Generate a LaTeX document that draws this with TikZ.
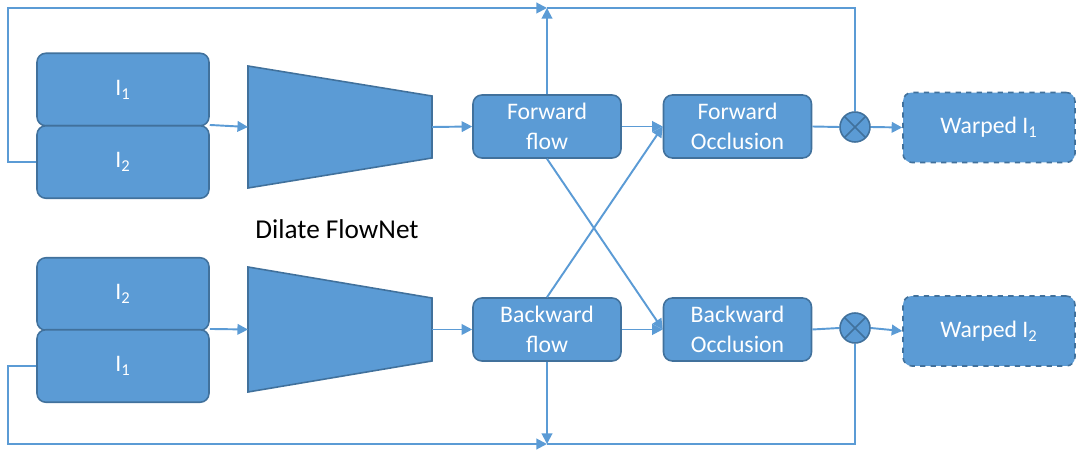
\documentclass[tikz,border=0pt]{standalone}
\usepackage{fontspec}
\setmainfont{Carlito}
\usetikzlibrary{arrows.meta}
\definecolor{boxblue}{HTML}{5B9BD5}
\definecolor{edgeblue}{HTML}{41719C}

\begin{document}
\begin{tikzpicture}[x=0.02cm,y=-0.02cm,
    box/.style={draw=edgeblue, fill=boxblue, line width=0.9pt, rounded corners=5pt,
                text=white, align=center, inner sep=0pt, font=\fontsize{13.5}{17}\selectfont},
    imgbox/.style={box, minimum width=3.44cm, minimum height=1.45cm},
    flowbox/.style={box, minimum width=2.96cm, minimum height=1.26cm},
    warpbox/.style={box, dashed, minimum width=3.44cm, minimum height=1.4cm},
    mult/.style={circle, draw=edgeblue, fill=boxblue, line width=0.9pt, minimum size=0.6cm, inner sep=0pt,
                 path picture={\draw[edgeblue, line width=0.9pt]
                   (path picture bounding box.south west) -- (path picture bounding box.north east)
                   (path picture bounding box.north west) -- (path picture bounding box.south east);}},
    link/.style={draw=boxblue, line width=1.1pt},
    arr/.style={link, -{Triangle[length=6pt,width=6pt]}}]

    \useasboundingbox (0,0) rectangle (1078,452);

    % Inputs
    \node[imgbox] (a1) at (123,89.5) {I\textsubscript{1}};
    \node[imgbox] (a2) at (123,162) {I\textsubscript{2}};
    \node[imgbox] (b2) at (123,294) {I\textsubscript{2}};
    \node[imgbox] (b1) at (123,366) {I\textsubscript{1}};

    % Networks
    \draw[edgeblue, fill=boxblue, line width=0.9pt] (248,66) -- (432,96) -- (432,158) -- (248,188) -- cycle;
    \draw[edgeblue, fill=boxblue, line width=0.9pt] (248,267) -- (432,298) -- (432,361) -- (248,392) -- cycle;
    \coordinate (netAin) at (248,127);
    \coordinate (netAout) at (432,127);
    \coordinate (netBin) at (248,329.5);
    \coordinate (netBout) at (432,329.5);
    \node[font=\fontsize{15.5}{18}\selectfont] (netlabel) at (337,229) {Dilate FlowNet};

    % Flows and occlusions
    \node[flowbox] (ff) at (547,126.5) {Forward\\flow};
    \node[flowbox] (fo) at (737.5,126.5) {Forward\\Occlusion};
    \node[flowbox] (bf) at (547,329.5) {Backward\\flow};
    \node[flowbox] (bo) at (737.5,329.5) {Backward\\Occlusion};

    % Products and outputs
    \node[mult] (m1) at (855,127) {};
    \node[mult] (m2) at (855,328) {};
    \node[warpbox] (w1) at (989,127.5) {Warped I\textsubscript{1}};
    \node[warpbox] (w2) at (989,331) {Warped I\textsubscript{2}};

    % Main path
    \draw[arr] (a2.north east) -- (netAin);
    \draw[arr] (b1.north east) -- (netBin);
    \draw[arr] (netAout) -- (ff.west);
    \draw[arr] (netBout) -- (bf.west);
    \draw[arr] (ff.east) -- (fo.west);
    \draw[arr] (bf.east) -- (bo.west);
    \draw[arr] (ff.south) -- (bo.west);
    \draw[arr] (bf.north) -- (fo.west);
    \draw[link] (fo.east) -- (m1.west);
    \draw[link] (bo.east) -- (m2.west);
    \draw[arr] (m1.east) -- (w1.west);
    \draw[arr] (m2.east) -- (w2.west);

    % Feedback loops
    \coordinate (topleft) at (8,8);
    \coordinate (topjoin) at (547,8);
    \coordinate (botleft) at (8,444);
    \coordinate (botjoin) at (547,444);
    \draw[arr] (a2.west) -| (topleft) -- (topjoin);
    \draw[arr] (ff.north) -- (topjoin);
    \draw[link] (m1.north) |- (topjoin);
    \draw[arr] (b1.west) -| (botleft) -- (botjoin);
    \draw[arr] (bf.south) -- (botjoin);
    \draw[link] (m2.south) |- (botjoin);

\end{tikzpicture}
\end{document}
